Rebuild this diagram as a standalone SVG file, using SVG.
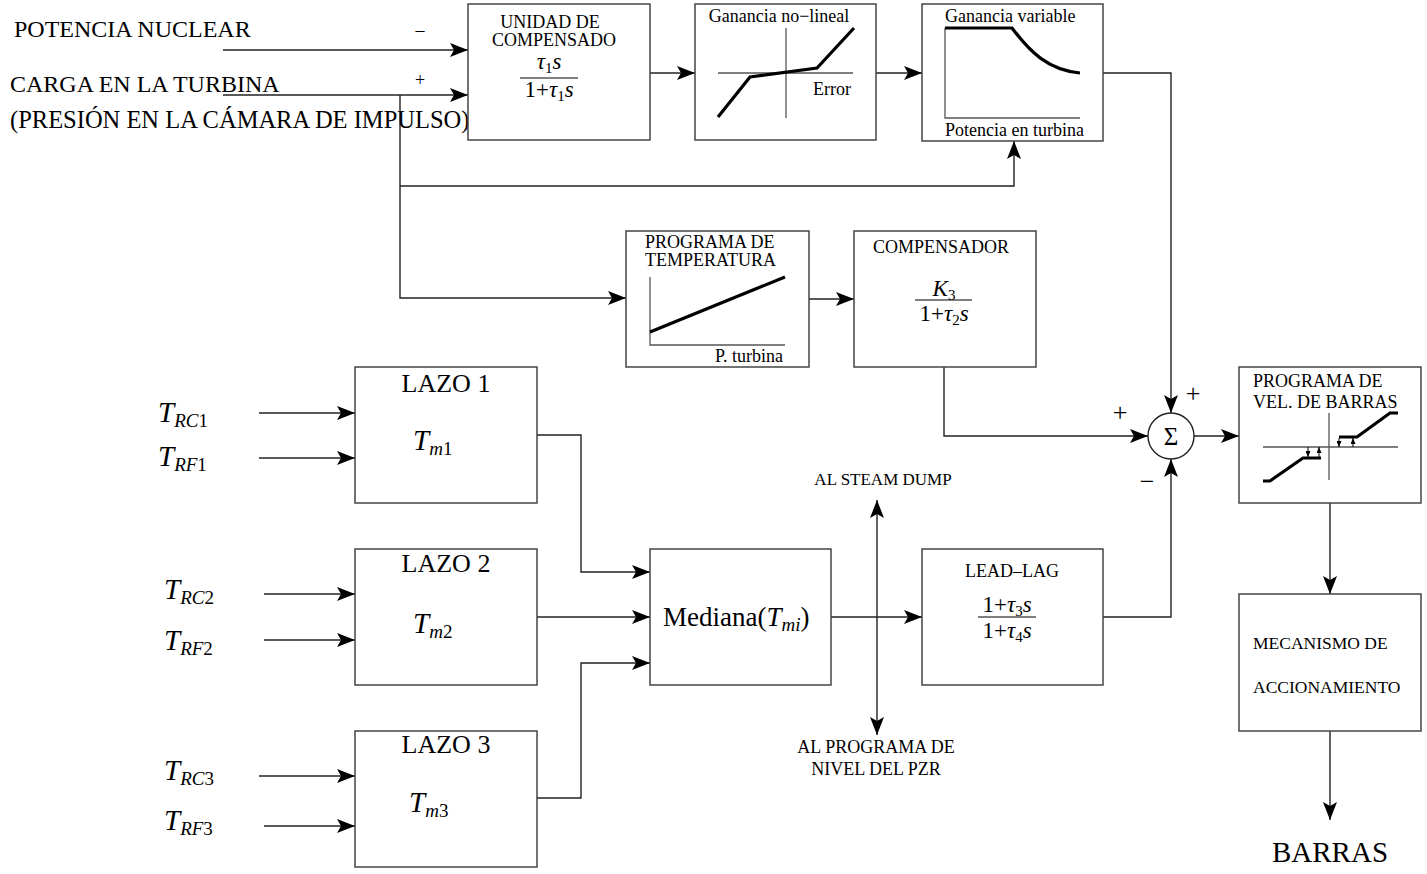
<svg xmlns="http://www.w3.org/2000/svg" width="1427" height="874" viewBox="0 0 1427 874">
<style>
text{font-family:"Liberation Serif","Times New Roman",serif;fill:#000}
.box{fill:#fff;stroke:#444;stroke-width:1.5}
.c{fill:none;stroke:#222;stroke-width:1.4}
.ax{fill:none;stroke:#555;stroke-width:1.3}
.thk{fill:none;stroke:#000;stroke-width:3.2}
.t18{font-size:18px}
.m{font-style:italic}
.mid{text-anchor:middle}
.fl{stroke:#000;stroke-width:1.2}
.fr{font-size:23px}
.frs{font-size:15px}
.big{font-size:29px}
.sub{font-size:19px}
</style>
<defs>
<marker id="ah" viewBox="0 0 18 14" refX="18" refY="7" markerWidth="18" markerHeight="14" markerUnits="userSpaceOnUse" orient="auto-start-reverse">
<path d="M0,0 L18,7 L0,14 L4,7 Z" fill="#000"/>
</marker>
<marker id="sh" viewBox="0 0 6 5" refX="6" refY="2.5" markerWidth="6" markerHeight="5" markerUnits="userSpaceOnUse" orient="auto">
<path d="M0,0 L6,2.5 L0,5 Z" fill="#000"/>
</marker>
</defs>

<g id="connectors">
<path class="c" d="M223,50 H468" marker-end="url(#ah)"/>
<path class="c" d="M223,95 H468" marker-end="url(#ah)"/>
<path class="c" d="M400,95 V298 H626" marker-end="url(#ah)"/>
<path class="c" d="M400,186 H1014 V141" marker-end="url(#ah)"/>
<path class="c" d="M650,73 H695" marker-end="url(#ah)"/>
<path class="c" d="M876,73 H922" marker-end="url(#ah)"/>
<path class="c" d="M1103,73 H1171 V413" marker-end="url(#ah)"/>
<path class="c" d="M809,299 H854" marker-end="url(#ah)"/>
<path class="c" d="M944,367 V436 H1148" marker-end="url(#ah)"/>
<path class="c" d="M1194,436 H1239" marker-end="url(#ah)"/>
<path class="c" d="M1330,503 V594" marker-end="url(#ah)"/>
<path class="c" d="M1330,731 V820" marker-end="url(#ah)"/>
<path class="c" d="M1103,617 H1171 V459" marker-end="url(#ah)"/>
<path class="c" d="M831,617 H922" marker-end="url(#ah)"/>
<path class="c" d="M877,500 V735" marker-start="url(#ah)" marker-end="url(#ah)"/>
<path class="c" d="M537,435 H581 V572 H650" marker-end="url(#ah)"/>
<path class="c" d="M537,617 H650" marker-end="url(#ah)"/>
<path class="c" d="M537,798 H581 V663 H650" marker-end="url(#ah)"/>
<path class="c" d="M259,413 H355" marker-end="url(#ah)"/>
<path class="c" d="M259,458 H355" marker-end="url(#ah)"/>
<path class="c" d="M264,594 H355" marker-end="url(#ah)"/>
<path class="c" d="M264,640 H355" marker-end="url(#ah)"/>
<path class="c" d="M259,776 H355" marker-end="url(#ah)"/>
<path class="c" d="M264,826 H355" marker-end="url(#ah)"/>
</g>

<g id="inputs">
<text x="14" y="37" font-size="24">POTENCIA NUCLEAR</text>
<text x="10" y="92" font-size="24">CARGA EN LA TURBINA</text>
<text x="10" y="128" font-size="24.5">(PRESIÓN EN LA CÁMARA DE IMPULSO)</text>
<text x="420" y="36" font-size="18" class="mid">–</text>
<text x="420" y="86" font-size="18" class="mid">+</text>
</g>

<g id="unidad">
<rect class="box" x="468" y="4" width="182" height="136"/>
<text x="550" y="28" class="t18 mid">UNIDAD DE</text>
<text x="554" y="46" class="t18 mid">COMPENSADO</text>
<text x="549" y="69" class="fr mid"><tspan class="m">τ</tspan><tspan class="frs" dy="4">1</tspan><tspan class="m" dy="-4">s</tspan></text>
<line class="fl" x1="520" y1="78" x2="578" y2="78"/>
<text x="549" y="97" class="fr mid">1+<tspan class="m">τ</tspan><tspan class="frs" dy="4">1</tspan><tspan class="m" dy="-4">s</tspan></text>
</g>

<g id="ganancia-nolineal">
<rect class="box" x="695" y="4" width="181" height="136"/>
<text x="779" y="22" class="t18 mid">Ganancia no−lineal</text>
<line class="ax" x1="718" y1="73" x2="853" y2="73"/>
<line class="ax" x1="786" y1="28" x2="786" y2="118"/>
<polyline class="thk" points="718,117 750,77 817,68 854,28"/>
<text x="813" y="95" class="t18">Error</text>
</g>

<g id="ganancia-variable">
<rect class="box" x="922" y="4" width="181" height="137"/>
<text x="945" y="22" class="t18">Ganancia variable</text>
<polyline class="ax" points="945,28 945,118 1080,118"/>
<path class="thk" d="M945,28 H1012 C1030,52 1048,70 1080,73"/>
<text x="945" y="136" class="t18">Potencia en turbina</text>
</g>

<g id="programa-temperatura">
<rect class="box" x="626" y="231" width="183" height="136"/>
<text x="645" y="248" class="t18">PROGRAMA DE</text>
<text x="645" y="266" class="t18">TEMPERATURA</text>
<polyline class="ax" points="650,277 650,345 785,345"/>
<line class="thk" x1="650" y1="332" x2="785" y2="277"/>
<text x="783" y="362" class="t18" text-anchor="end">P. turbina</text>
</g>

<g id="compensador">
<rect class="box" x="854" y="231" width="182" height="136"/>
<text x="941" y="253" class="t18 mid">COMPENSADOR</text>
<text x="944" y="296" class="fr mid"><tspan class="m">K</tspan><tspan class="frs" dy="4">3</tspan></text>
<line class="fl" x1="915" y1="300" x2="972" y2="300"/>
<text x="944" y="321" class="fr mid">1+<tspan class="m">τ</tspan><tspan class="frs" dy="4">2</tspan><tspan class="m" dy="-4">s</tspan></text>
</g>

<g id="lazo1">
<rect class="box" x="355" y="367" width="182" height="136"/>
<text x="446" y="392" font-size="26" class="mid">LAZO 1</text>
<text x="413" y="450" class="big"><tspan class="m">T</tspan><tspan class="sub m" dy="5">m</tspan><tspan class="sub">1</tspan></text>
<text x="158" y="422" class="big"><tspan class="m">T</tspan><tspan class="sub m" dy="5">RC</tspan><tspan class="sub">1</tspan></text>
<text x="158" y="466" class="big"><tspan class="m">T</tspan><tspan class="sub m" dy="5">RF</tspan><tspan class="sub">1</tspan></text>
</g>

<g id="lazo2">
<rect class="box" x="355" y="549" width="182" height="136"/>
<text x="446" y="572" font-size="26" class="mid">LAZO 2</text>
<text x="413" y="633" class="big"><tspan class="m">T</tspan><tspan class="sub m" dy="5">m</tspan><tspan class="sub">2</tspan></text>
<text x="164" y="599" class="big"><tspan class="m">T</tspan><tspan class="sub m" dy="5">RC</tspan><tspan class="sub">2</tspan></text>
<text x="164" y="650" class="big"><tspan class="m">T</tspan><tspan class="sub m" dy="5">RF</tspan><tspan class="sub">2</tspan></text>
</g>

<g id="lazo3">
<rect class="box" x="355" y="731" width="182" height="136"/>
<text x="446" y="753" font-size="26" class="mid">LAZO 3</text>
<text x="409" y="812" class="big"><tspan class="m">T</tspan><tspan class="sub m" dy="5">m</tspan><tspan class="sub">3</tspan></text>
<text x="164" y="780" class="big"><tspan class="m">T</tspan><tspan class="sub m" dy="5">RC</tspan><tspan class="sub">3</tspan></text>
<text x="164" y="830" class="big"><tspan class="m">T</tspan><tspan class="sub m" dy="5">RF</tspan><tspan class="sub">3</tspan></text>
</g>

<g id="mediana">
<rect class="box" x="650" y="549" width="181" height="136"/>
<text x="663" y="626" font-size="27">Mediana(<tspan class="m">T</tspan><tspan class="sub m" dy="5">mi</tspan><tspan dy="-5">)</tspan></text>
</g>

<g id="steam-labels">
<text x="883" y="485" font-size="17" class="mid">AL STEAM DUMP</text>
<text x="876" y="753" class="t18 mid">AL PROGRAMA DE</text>
<text x="876" y="775" class="t18 mid">NIVEL DEL PZR</text>
</g>

<g id="leadlag">
<rect class="box" x="922" y="549" width="181" height="136"/>
<text x="1012" y="577" class="t18 mid">LEAD–LAG</text>
<text x="1007" y="612" class="fr mid">1+<tspan class="m">τ</tspan><tspan class="frs" dy="4">3</tspan><tspan class="m" dy="-4">s</tspan></text>
<line class="fl" x1="978" y1="617" x2="1036" y2="617"/>
<text x="1007" y="638" class="fr mid">1+<tspan class="m">τ</tspan><tspan class="frs" dy="4">4</tspan><tspan class="m" dy="-4">s</tspan></text>
</g>

<g id="sumador">
<circle cx="1171" cy="436" r="23" fill="#fff" stroke="#222" stroke-width="1.4"/>
<text x="1171" y="445" font-size="25" class="mid">Σ</text>
<text x="1120" y="421" font-size="26" class="mid">+</text>
<text x="1193" y="402" font-size="26" class="mid">+</text>
<text x="1147" y="490" font-size="26" class="mid">−</text>
</g>

<g id="programa-barras">
<rect class="box" x="1239" y="367" width="182" height="136"/>
<text x="1253" y="387" class="t18">PROGRAMA DE</text>
<text x="1253" y="408" class="t18">VEL. DE BARRAS</text>
<line class="ax" x1="1263" y1="447" x2="1398" y2="447"/>
<line class="ax" x1="1329" y1="413" x2="1329" y2="480"/>
<polyline class="thk" points="1263,481 1270,481 1303,458 1321,458"/>
<polyline class="thk" points="1339,437 1357,437 1390,413 1398,413"/>
<line stroke="#000" stroke-width="1" x1="1308" y1="447" x2="1308" y2="457" marker-end="url(#sh)"/>
<line stroke="#000" stroke-width="1" x1="1319" y1="457" x2="1319" y2="447" marker-end="url(#sh)"/>
<line stroke="#000" stroke-width="1" x1="1339" y1="438" x2="1339" y2="447" marker-end="url(#sh)"/>
<line stroke="#000" stroke-width="1" x1="1353" y1="447" x2="1353" y2="438" marker-end="url(#sh)"/>
</g>

<g id="mecanismo">
<rect class="box" x="1239" y="594" width="182" height="137"/>
<text x="1253" y="649" font-size="17.5">MECANISMO DE</text>
<text x="1253" y="693" font-size="17.5">ACCIONAMIENTO</text>
</g>

<g id="barras">
<text x="1330" y="862" font-size="29" class="mid">BARRAS</text>
</g>
</svg>
